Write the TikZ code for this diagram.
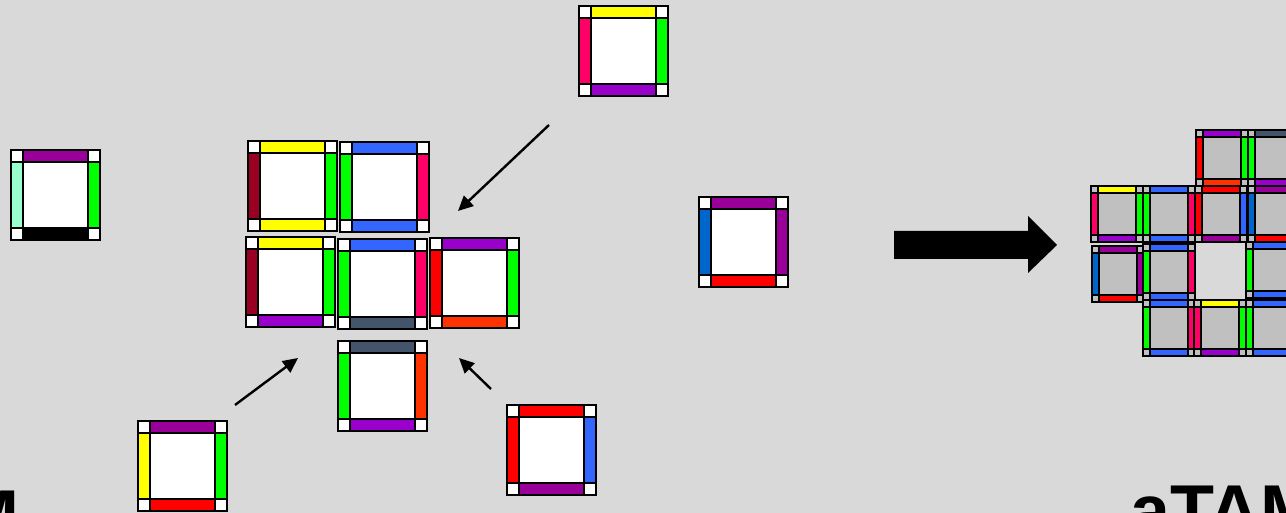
\documentclass[tikz,border=0pt]{standalone}
\usepackage{fontspec}
\setsansfont{Liberation Sans}
\usetikzlibrary{arrows.meta}
\definecolor{bgc}{HTML}{D9D9D9}
\definecolor{purA}{HTML}{990099}
\definecolor{purB}{HTML}{9900CC}
\definecolor{grn}{HTML}{00FF00}
\definecolor{aqua}{HTML}{99FFCC}
\definecolor{yel}{HTML}{FFFF00}
\definecolor{pnk}{HTML}{FF0066}
\definecolor{dred}{HTML}{990022}
\definecolor{blu}{HTML}{3366FF}
\definecolor{dblu}{HTML}{0066CC}
\definecolor{slate}{HTML}{44546A}
\definecolor{orng}{HTML}{FF3300}
\definecolor{rd}{HTML}{FF0000}
\definecolor{gry}{HTML}{C0C0C0}
\def\tw{89}\def\th{90}\def\tc{12}\def\tfill{white}
% #1 x, #2 y, #3 top, #4 right, #5 bottom, #6 left
\newcommand\ttile[6]{%
  \begin{scope}[shift={(#1,#2)}]
    \fill[fill=\tfill] (0,0) rectangle (\tw,\th);
    \filldraw[fill=#3,tline] (\tc,0) rectangle ({\tw-\tc},\tc);
    \filldraw[fill=#4,tline] ({\tw-\tc},\tc) rectangle (\tw,{\th-\tc});
    \filldraw[fill=#5,tline] (\tc,{\th-\tc}) rectangle ({\tw-\tc},\th);
    \filldraw[fill=#6,tline] (0,\tc) rectangle (\tc,{\th-\tc});
    \filldraw[fill=\tfill,tline] (0,0) rectangle (\tc,\tc);
    \filldraw[fill=\tfill,tline] ({\tw-\tc},0) rectangle (\tw,\tc);
    \filldraw[fill=\tfill,tline] (0,{\th-\tc}) rectangle (\tc,\th);
    \filldraw[fill=\tfill,tline] ({\tw-\tc},{\th-\tc}) rectangle (\tw,\th);
    \draw[tline] (0,0) rectangle (\tw,\th);
  \end{scope}}
\begin{document}
\begin{tikzpicture}[x=1pt,y=-1pt,
  tline/.style={draw=black,line width=1.6pt},
  thin arrow/.style={draw=black,line width=2.4pt,-{Triangle[length=15pt,width=14pt]}},
  bigtext/.style={font=\sffamily\bfseries\fontsize{72}{72}\selectfont,inner sep=0pt}]
\useasboundingbox (0,0) rectangle (1286,513);
\fill[bgc] (0,0) rectangle (1286,513);
\clip (0,0) rectangle (1286,513);
% large tiles
\ttile{11}{150}{purA}{grn}{black}{aqua}
\ttile{579}{6}{yel}{grn}{purB}{pnk}
\ttile{699}{197}{purA}{purA}{rd}{dblu}
\ttile{248}{141}{yel}{grn}{yel}{dred}
\ttile{340}{142}{blu}{pnk}{blu}{grn}
\ttile{246}{237}{yel}{grn}{purB}{dred}
\ttile{338}{239}{blu}{pnk}{slate}{grn}
\ttile{430}{238}{purB}{grn}{orng}{rd}
\ttile{338}{341}{slate}{orng}{purB}{grn}
\ttile{138}{421}{purA}{grn}{rd}{yel}
\ttile{507}{405}{rd}{blu}{purA}{rd}
% arrows
\coordinate (a1s) at (549,125); \coordinate (a1e) at (458,211);
\coordinate (a2s) at (235,405); \coordinate (a2e) at (298,358);
\coordinate (a3s) at (491,389); \coordinate (a3e) at (459,358);
\draw[thin arrow] (a1s) -- (a1e);
\draw[thin arrow] (a2s) -- (a2e);
\draw[thin arrow] (a3s) -- (a3e);
% big arrow
\fill[black] (894,231) -- (1028,231) -- (1028,216) -- (1057,245) -- (1028,273) -- (1028,259) -- (894,259) -- cycle;
% assembled (aTAM) tiles
\def\tw{52}\def\th{56}\def\tc{7}\def\tfill{gry}
\tikzset{tline/.style={draw=black,line width=1.3pt}}
\ttile{1196}{130}{purB}{grn}{orng}{rd}
\ttile{1248}{130}{slate}{orng}{purB}{grn}
\ttile{1091}{186}{yel}{grn}{purB}{pnk}
\ttile{1143}{186}{blu}{pnk}{blu}{grn}
\ttile{1195}{186}{rd}{blu}{purA}{rd}
\ttile{1248}{186}{purA}{purA}{rd}{dblu}
\ttile{1092}{246}{purA}{purA}{rd}{dblu}
\ttile{1143}{244}{blu}{pnk}{blu}{grn}
\ttile{1246}{242}{blu}{pnk}{blu}{grn}
\ttile{1143}{300}{blu}{pnk}{blu}{grn}
\ttile{1194}{300}{yel}{grn}{purB}{pnk}
\ttile{1246}{300}{blu}{pnk}{blu}{grn}
% labels (cut by the frame)
\node[bigtext,anchor=base east] (lbl1) at (20,540) {M};
\node[bigtext,anchor=base west] (lbl2) at (1130,535) {aTAM};
\end{tikzpicture}
\end{document}
